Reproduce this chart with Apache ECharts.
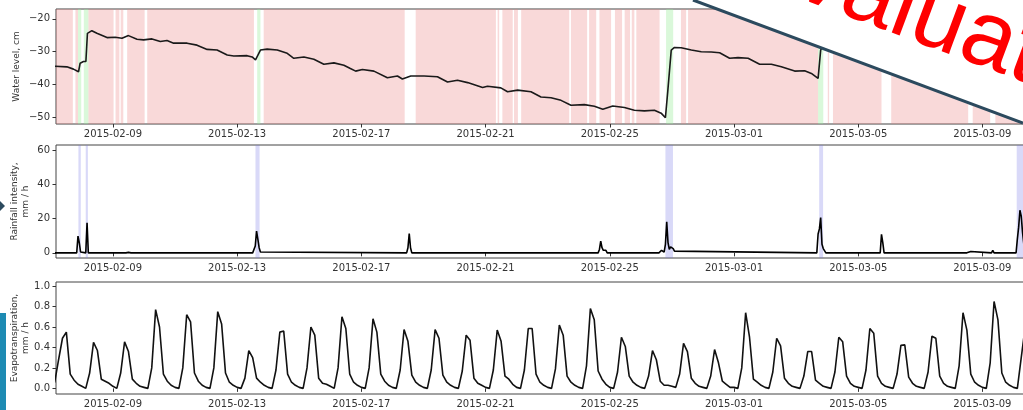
<!DOCTYPE html>
<html><head><meta charset="utf-8">
<script src="https://cdn.jsdelivr.net/npm/echarts@6/dist/echarts.min.js"></script>
<style>html,body{margin:0;padding:0;background:#fff}#c{width:1023px;height:410px}</style>
</head><body><div id="c"></div>
<script>
// ---------- data ----------
const tickDates = ['2015-02-09','2015-02-13','2015-02-17','2015-02-21','2015-02-25','2015-03-01','2015-03-05','2015-03-09'];
const waterTicks = [-50,-40,-30,-20];
const rainTicks = [0,20,40,60];
const etTicks = [0,0.2,0.4,0.6,0.8,1.0];

const waterLevel = [
['2015-02-07 03:00',-34.4],['2015-02-07 12:24',-34.6],['2015-02-07 17:30',-35.3],['2015-02-07 21:24',-36.1],
['2015-02-07 22:40',-33.5],['2015-02-08 01:12',-33.0],['2015-02-08 03:06',-33.0],['2015-02-08 04:18',-24.4],
['2015-02-08 07:42',-23.6],['2015-02-08 11:36',-24.4],['2015-02-08 19:24',-25.7],['2015-02-09 01:48',-25.6],
['2015-02-09 07:00',-25.9],['2015-02-09 12:00',-25.1],['2015-02-09 18:36',-26.2],['2015-02-09 23:42',-26.4],
['2015-02-10 06:12',-26.1],['2015-02-10 12:36',-26.9],['2015-02-10 17:48',-26.6],['2015-02-10 22:54',-27.4],
['2015-02-11 09:18',-27.4],['2015-02-11 17:00',-28.0],['2015-02-12 00:48',-29.3],['2015-02-12 08:30',-29.5],
['2015-02-12 16:18',-31.0],['2015-02-12 21:24',-31.3],['2015-02-13 07:42',-31.2],['2015-02-13 11:36',-31.6],
['2015-02-13 14:12',-32.5],['2015-02-13 18:00',-29.5],['2015-02-13 23:12',-29.2],['2015-02-14 07:00',-29.5],
['2015-02-14 14:42',-30.5],['2015-02-14 19:48',-32.0],['2015-02-15 03:36',-31.6],['2015-02-15 11:18',-32.3],
['2015-02-15 19:00',-33.8],['2015-02-16 02:48',-33.4],['2015-02-16 10:30',-34.1],['2015-02-16 15:30',-35.1],
['2015-02-16 19:36',-35.9],['2015-02-17 00:48',-35.4],['2015-02-17 09:42',-35.9],['2015-02-17 20:06',-37.9],
['2015-02-18 03:54',-37.4],['2015-02-18 07:42',-38.3],['2015-02-18 14:12',-37.4],['2015-02-19 00:30',-37.4],
['2015-02-19 10:48',-37.6],['2015-02-19 18:36',-39.2],['2015-02-20 02:18',-38.7],['2015-02-20 10:06',-39.4],
['2015-02-20 21:42',-40.9],['2015-02-21 01:30',-40.5],['2015-02-21 11:48',-41.0],['2015-02-21 17:00',-42.2],
['2015-02-22 00:48',-41.7],['2015-02-22 11:06',-42.2],['2015-02-22 18:48',-43.8],['2015-02-23 02:36',-44.0],
['2015-02-23 10:18',-44.8],['2015-02-23 18:00',-46.3],['2015-02-24 04:18',-46.1],['2015-02-24 12:06',-46.6],
['2015-02-24 18:36',-47.5],['2015-02-25 02:18',-46.5],['2015-02-25 11:18',-47.0],['2015-02-25 19:00',-47.8],
['2015-02-26 02:48',-48.0],['2015-02-26 10:30',-47.8],['2015-02-26 15:42',-48.7],['2015-02-26 19:00',-50.1],
['2015-02-26 20:54',-41.7],['2015-02-26 23:30',-29.5],['2015-02-27 02:00',-28.7],['2015-02-27 07:12',-28.8],
['2015-02-27 15:00',-29.5],['2015-02-27 22:42',-30.0],['2015-02-28 06:24',-30.1],['2015-02-28 12:54',-30.3],
['2015-02-28 20:36',-32.0],['2015-03-01 03:06',-31.8],['2015-03-01 10:54',-32.0],['2015-03-01 19:48',-33.8],
['2015-03-02 04:54',-33.8],['2015-03-02 12:36',-34.6],['2015-03-02 22:54',-35.9],['2015-03-03 06:36',-35.8],
['2015-03-03 11:48',-36.6],['2015-03-03 17:00',-38.1],['2015-03-03 19:00',-29.5],['2015-03-03 21:00',-28.0],
['2015-03-04 06:00',-28.3],['2015-03-05 06:00',-29.4],['2015-03-06 06:00',-30.5],['2015-03-07 06:00',-31.2],
['2015-03-08 06:00',-32.3],['2015-03-09 06:00',-33.0],['2015-03-10 06:00',-33.8],['2015-03-10 12:00',-34.0]
];

const dryBands = [
['2015-02-07 00:00','2015-02-07 17:00'],['2015-02-07 19:00','2015-02-07 21:00'],['2015-02-08 05:00','2015-02-09 00:30'],
['2015-02-09 02:00','2015-02-09 05:00'],['2015-02-09 06:00','2015-02-09 08:00'],['2015-02-09 11:00','2015-02-10 00:30'],
['2015-02-10 02:30','2015-02-13 13:00'],['2015-02-13 20:30','2015-02-18 09:30'],['2015-02-18 18:00','2015-02-21 08:00'],
['2015-02-21 09:20','2015-02-21 10:30'],['2015-02-21 13:00','2015-02-21 21:00'],['2015-02-21 22:00','2015-02-22 01:00'],
['2015-02-22 03:30','2015-02-23 16:40'],['2015-02-23 18:00','2015-02-24 06:30'],['2015-02-24 08:00','2015-02-24 13:30'],
['2015-02-24 16:00','2015-02-25 01:00'],['2015-02-25 04:00','2015-02-25 09:30'],['2015-02-25 11:30','2015-02-25 15:40'],
['2015-02-25 17:00','2015-02-25 19:00'],['2015-02-25 20:30','2015-02-26 14:30'],['2015-02-27 07:00','2015-02-27 11:00'],
['2015-02-27 12:30','2015-03-03 17:00'],['2015-03-04 00:30','2015-03-04 01:30'],['2015-03-04 04:30','2015-03-05 18:00'],
['2015-03-06 01:30','2015-03-08 13:00'],['2015-03-08 16:30','2015-03-09 06:00'],['2015-03-09 10:00','2015-03-11 00:00']
];
const wetBands = [
['2015-02-07 21:00','2015-02-07 23:30'],['2015-02-08 01:30','2015-02-08 05:00'],['2015-02-13 15:30','2015-02-13 18:00'],
['2015-02-26 19:30','2015-02-27 01:00'],['2015-03-03 17:00','2015-03-03 21:00']
];
const rainBands = [
['2015-02-07 21:20','2015-02-07 23:10'],['2015-02-08 03:00','2015-02-08 04:40'],['2015-02-13 14:10','2015-02-13 17:20'],
['2015-02-26 19:00','2015-02-27 00:50'],['2015-03-03 17:50','2015-03-03 20:50'],['2015-03-10 02:30','2015-03-10 07:40']
];

const rainfall = [
['2015-02-07 00:00',0],['2015-02-07 20:00',0],['2015-02-07 21:00',9.8],['2015-02-07 22:00',5.9],['2015-02-07 23:00',0.5],
['2015-02-08 00:00',0],['2015-02-08 03:00',0],['2015-02-08 04:00',17.6],['2015-02-08 05:00',0],
['2015-02-09 10:00',0],['2015-02-09 12:00',0.3],['2015-02-09 14:00',0],
['2015-02-13 12:00',0],['2015-02-13 14:00',4],['2015-02-13 15:00',12.7],['2015-02-13 16:00',8],['2015-02-13 17:00',3],['2015-02-13 18:00',0.5],['2015-02-13 19:00',0],
['2015-02-18 11:00',0],['2015-02-18 12:00',3],['2015-02-18 13:00',11.2],['2015-02-18 14:00',3],['2015-02-18 15:00',0],
['2015-02-24 15:00',0],['2015-02-24 16:00',2],['2015-02-24 17:00',6.8],['2015-02-24 18:00',3],['2015-02-24 19:00',1.5],['2015-02-24 20:00',0.5],['2015-02-24 21:00',1.5],['2015-02-24 22:00',0],
['2015-02-26 14:00',0],['2015-02-26 16:00',1.5],['2015-02-26 18:00',0.5],['2015-02-26 19:00',5],['2015-02-26 20:00',18.2],['2015-02-26 21:00',6],['2015-02-26 22:00',2],['2015-02-26 23:00',3.5],['2015-02-27 01:00',2.5],['2015-02-27 02:00',1],['2015-02-27 03:00',0],
['2015-03-03 16:00',0],['2015-03-03 17:00',11],['2015-03-03 18:00',14],['2015-03-03 19:00',20.6],['2015-03-03 20:00',5],['2015-03-03 21:00',2.5],['2015-03-03 22:00',1.5],['2015-03-03 23:00',0],
['2015-03-05 17:00',0],['2015-03-05 18:00',10.8],['2015-03-05 19:00',6],['2015-03-05 20:00',0],
['2015-03-08 12:00',0],['2015-03-08 13:00',0.8],['2015-03-08 15:00',0.8],['2015-03-08 16:00',0],
['2015-03-09 07:00',0],['2015-03-09 08:00',1.5],['2015-03-09 09:00',0],
['2015-03-10 02:00',0],['2015-03-10 03:00',8],['2015-03-10 04:00',15],['2015-03-10 05:00',24.9],['2015-03-10 06:00',21.5],['2015-03-10 07:00',12],['2015-03-10 08:00',5],['2015-03-10 12:00',2]
];

// evapotranspiration: one row per day, values at 00,03,06,09,12,15,18,21 h
const etDays = ['2015-02-07','2015-02-08','2015-02-09','2015-02-10','2015-02-11','2015-02-12','2015-02-13','2015-02-14',
'2015-02-15','2015-02-16','2015-02-17','2015-02-18','2015-02-19','2015-02-20','2015-02-21','2015-02-22','2015-02-23',
'2015-02-24','2015-02-25','2015-02-26','2015-02-27','2015-02-28','2015-03-01','2015-03-02','2015-03-03','2015-03-04',
'2015-03-05','2015-03-06','2015-03-07','2015-03-08','2015-03-09','2015-03-10'];
const etHours = [0,3,6,9,12,15,18,21];
const etValues = [
[0.05,0.06,0.28,0.49,0.55,0.14,0.08,0.04],
[0.02,0.00,0.15,0.45,0.37,0.09,0.07,0.05],
[0.02,0.00,0.15,0.455,0.36,0.09,0.05,0.02],
[0.01,0.00,0.20,0.77,0.60,0.14,0.07,0.03],
[0.01,0.00,0.20,0.72,0.65,0.15,0.07,0.03],
[0.01,0.00,0.20,0.75,0.63,0.15,0.06,0.03],
[0.01,0.00,0.10,0.37,0.30,0.10,0.06,0.03],
[0.01,0.00,0.18,0.55,0.56,0.14,0.06,0.03],
[0.01,0.00,0.20,0.60,0.52,0.10,0.05,0.04],
[0.02,0.00,0.20,0.70,0.585,0.14,0.06,0.03],
[0.01,0.00,0.20,0.68,0.55,0.14,0.07,0.03],
[0.01,0.00,0.18,0.575,0.46,0.13,0.06,0.03],
[0.01,0.00,0.18,0.575,0.49,0.13,0.06,0.03],
[0.01,0.00,0.17,0.52,0.47,0.10,0.05,0.03],
[0.01,0.00,0.18,0.57,0.46,0.12,0.09,0.04],
[0.01,0.00,0.18,0.585,0.585,0.14,0.06,0.03],
[0.01,0.00,0.19,0.62,0.52,0.12,0.06,0.03],
[0.01,0.00,0.22,0.78,0.67,0.17,0.09,0.04],
[0.01,0.00,0.16,0.50,0.41,0.12,0.06,0.03],
[0.01,0.00,0.12,0.37,0.28,0.07,0.03,0.03],
[0.02,0.01,0.14,0.44,0.36,0.10,0.05,0.02],
[0.01,0.00,0.12,0.38,0.25,0.07,0.04,0.01],
[0.01,0.00,0.20,0.74,0.50,0.09,0.06,0.03],
[0.01,0.00,0.16,0.49,0.415,0.10,0.05,0.02],
[0.01,0.00,0.12,0.36,0.36,0.08,0.05,0.02],
[0.01,0.00,0.16,0.50,0.455,0.12,0.05,0.02],
[0.01,0.00,0.18,0.585,0.54,0.12,0.05,0.02],
[0.01,0.00,0.14,0.42,0.425,0.11,0.05,0.02],
[0.01,0.00,0.16,0.51,0.49,0.12,0.05,0.02],
[0.01,0.00,0.22,0.74,0.57,0.14,0.06,0.03],
[0.01,0.00,0.25,0.85,0.67,0.15,0.06,0.03],
[0.01,0.00,0.30,0.60,0.50,0.15,0.06,0.03]
];

// ---------- build ----------
const ts = s => new Date(s.length<=10 ? s+'T00:00:00Z' : s.replace(' ','T')+':00Z').getTime();
const H = 3600000;
const evapo = [];
etDays.forEach((d,i)=>etHours.forEach((h,k)=>evapo.push([ts(d)+h*H, etValues[i][k]])));
const tickTs = tickDates.map(ts);
const X_MIN = ts('2015-02-07 04:00'), X_MAX = ts('2015-03-10 12:00');
const fmtDate = v => new Date(v).toISOString().slice(0,10);

const PINK = 'rgba(236,128,128,0.30)', GREEN = 'rgba(150,235,150,0.35)', BLUE = 'rgba(120,120,230,0.28)';
const band = (list,color)=>list.map(b=>[{xAxis: ts(b[0]), itemStyle:{color}},{xAxis: ts(b[1])}]);

const FONT = 'DejaVu Sans';
const TXT = '#333';
function xAx(gi){
  return {type:'value', gridIndex:gi, min:X_MIN, max:X_MAX, scale:true,
    axisLine:{show:false}, splitLine:{show:false},
    axisTick:{show:true, customValues:tickTs, length:3.5, lineStyle:{color:'#333'}},
    axisLabel:{customValues:tickTs, fontFamily:FONT, fontSize:10, color:TXT, margin:5, formatter:fmtDate}};
}
function yAx(gi,min,max,ticks,name,gap,fmt){
  return {type:'value', gridIndex:gi, min, max, name, nameLocation:'middle', nameRotate:90, nameGap:gap,
    nameMoveOverlap:false,
    nameTextStyle:{fontFamily:FONT, fontSize:9, color:TXT, lineHeight:11},
    axisLine:{show:false}, splitLine:{show:false},
    axisTick:{show:true, customValues:ticks, length:3.5, lineStyle:{color:'#333'}},
    axisLabel:{customValues:ticks, fontFamily:FONT, fontSize:10, color:TXT, margin:6, formatter:fmt}};
}
const gridBase = {left:56, right:-6, containLabel:false, outerBoundsMode:'none', show:true, borderColor:'#444', borderWidth:1, backgroundColor:'transparent'};

const chart = echarts.init(document.getElementById('c'), null, {renderer:'canvas'});
chart.setOption({
  animation:false,
  grid:[
    Object.assign({top:9, height:115}, gridBase),
    Object.assign({top:145, height:113}, gridBase),
    Object.assign({top:282, height:112}, gridBase)
  ],
  xAxis:[xAx(0),xAx(1),xAx(2)],
  yAxis:[
    yAx(0,-52,-17,waterTicks,'Water level, cm',34,v=>String(v).replace('-','\u2212')),
    yAx(1,-3,63,rainTicks,'Rainfall intensity,\nmm / h',25,v=>String(v)),
    yAx(2,-0.055,1.04,etTicks,'Evapotranspiration,\nmm / h',25,v=>v.toFixed(1))
  ],
  series:[
    {type:'line', xAxisIndex:0, yAxisIndex:0, data:waterLevel.map(p=>[ts(p[0]),p[1]]), showSymbol:false,
      lineStyle:{color:'#1a1a1a', width:1.6}, z:5,
      markArea:{silent:true, data: band(dryBands,PINK).concat(band(wetBands,GREEN))}},
    {type:'line', xAxisIndex:1, yAxisIndex:1, data:rainfall.map(p=>[ts(p[0]),p[1]]), showSymbol:false,
      lineStyle:{color:'#000', width:1.6}, z:5,
      markArea:{silent:true, data: band(rainBands,BLUE)}},
    {type:'line', xAxisIndex:2, yAxisIndex:2, data:evapo, showSymbol:false,
      lineStyle:{color:'#111', width:1.6}, z:5}
  ],
  graphic:[
    {type:'polygon', z:100, shape:{points:[[693,0],[1023,123],[1023,0]]}, style:{fill:'#fff'}},
    {type:'text', z:101, x:725, y:-7, rotation:-0.357,
      style:{text:'Evaluation', fontFamily:'Liberation Sans', fontSize:95, fill:'#ff0000', textVerticalAlign:'bottom', textAlign:'left'}},
    {type:'line', z:102, shape:{x1:693,y1:0,x2:1023,y2:123}, style:{stroke:'#2c4a5e', lineWidth:3}},
    {type:'rect', z:100, shape:{x:0,y:313,width:6,height:97}, style:{fill:'#1e8bb3'}},
    {type:'polygon', z:100, shape:{points:[[0,201],[5,206],[0,211]]}, style:{fill:'#2c4a5e'}}
  ]
});
</script></body></html>
